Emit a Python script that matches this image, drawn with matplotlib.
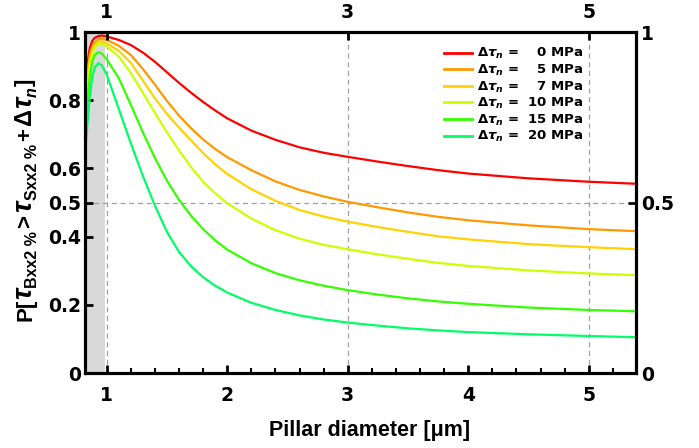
import numpy as np
from matplotlib import pyplot as plt
from matplotlib.transforms import IdentityTransform

plt.rcParams['font.family'] = ['DejaVu Sans']
plt.rcParams['font.weight'] = 'bold'
plt.rcParams['mathtext.fontset'] = 'custom'
plt.rcParams['mathtext.rm'] = 'DejaVu Sans:bold'
plt.rcParams['mathtext.it'] = 'DejaVu Sans:bold:italic'
plt.rcParams['mathtext.bf'] = 'DejaVu Sans:bold'

# pillar diameter [um]
diameter = [0.82, 0.83, 0.84, 0.86, 0.88, 0.9, 0.93, 0.96, 1.0, 1.1, 1.2, 1.3, 1.4, 1.5,
            1.6, 1.7, 1.8, 1.9, 2.0, 2.2, 2.4, 2.6, 2.8, 3.0, 3.25, 3.5, 3.75, 4.0, 4.5, 5.0, 5.4]

p_0mpa = [0.60, 0.80, 0.91, 0.953, 0.974, 0.983, 0.988, 0.99, 0.987, 0.977, 0.962, 0.94, 0.913,
          0.882, 0.851, 0.822, 0.795, 0.770, 0.747, 0.711, 0.684, 0.662, 0.646, 0.634, 0.620,
          0.607, 0.595, 0.585, 0.571, 0.561, 0.555]
p_5mpa = [0.60, 0.78, 0.88, 0.935, 0.958, 0.97, 0.979, 0.981, 0.977, 0.96, 0.933, 0.892, 0.846,
          0.798, 0.755, 0.718, 0.685, 0.657, 0.633, 0.595, 0.562, 0.537, 0.518, 0.502, 0.486,
          0.471, 0.458, 0.448, 0.433, 0.422, 0.416]
p_7mpa = [0.60, 0.77, 0.86, 0.918, 0.947, 0.962, 0.972, 0.973, 0.967, 0.945, 0.91, 0.858, 0.806,
          0.76, 0.72, 0.682, 0.645, 0.612, 0.584, 0.539, 0.505, 0.478, 0.459, 0.444, 0.428,
          0.414, 0.401, 0.392, 0.378, 0.369, 0.363]
p_10mpa = [0.60, 0.75, 0.84, 0.9, 0.935, 0.955, 0.966, 0.966, 0.958, 0.928, 0.88, 0.822, 0.763,
           0.706, 0.653, 0.604, 0.561, 0.527, 0.498, 0.453, 0.419, 0.394, 0.376, 0.363, 0.348,
           0.335, 0.323, 0.314, 0.301, 0.292, 0.287]
p_15mpa = [0.60, 0.73, 0.80, 0.87, 0.913, 0.932, 0.941, 0.937, 0.92, 0.865, 0.787, 0.706, 0.631,
           0.564, 0.508, 0.461, 0.422, 0.389, 0.362, 0.322, 0.293, 0.272, 0.256, 0.243, 0.230,
           0.219, 0.210, 0.203, 0.192, 0.185, 0.181]
p_20mpa = [0.60, 0.68, 0.73, 0.81, 0.868, 0.895, 0.909, 0.902, 0.875, 0.775, 0.674, 0.578, 0.491,
           0.414, 0.355, 0.313, 0.281, 0.256, 0.236, 0.206, 0.185, 0.169, 0.157, 0.148, 0.139,
           0.131, 0.125, 0.12, 0.1135, 0.1085, 0.105]

d_tau = [0, 5, 7, 10, 15, 20]
series = [p_0mpa, p_5mpa, p_7mpa, p_10mpa, p_15mpa, p_20mpa]
colors = ['#ff0000', '#ff9900', '#ffd200', '#ccff00', '#33ff00', '#00ff66']

fig = plt.figure(figsize=(6.99, 4.48), dpi=100)
ax = fig.add_axes([0.1216, 0.1674, 0.788, 0.761])

ax.axvspan(0.82, 0.985, color='#d9d9d9', lw=0, zorder=0)
for xv in [1, 3, 5]:
    ax.axvline(xv, color='#a0a0a0', ls=(0, (4, 3)), lw=0.9, zorder=1)
ax.axhline(0.5, color='#a0a0a0', ls=(0, (4, 3)), lw=0.9, zorder=1)

for dt, ys, c in zip(d_tau, series, colors):
    pad = '  ' if dt < 10 else ''
    ax.plot(diameter, ys, color=c, lw=1.6, zorder=3,
            label=r'$\Delta\tau_n$ =  ' + pad + f'{dt} MPa')

tick_fs = 13.5
ax.set_xlim(0.82, 5.39)
ax.set_ylim(0, 1)
ax.set_xticks([1, 2, 3, 4, 5])
ax.set_xticks(np.arange(1.2, 5.4, 0.2), minor=True)
ax.set_yticks([0, 0.2, 0.4, 0.5, 0.6, 0.8, 1])
ax.set_yticklabels(['0', '0.2', '0.4', '0.5', '0.6', '0.8', '1'])
ax.tick_params(axis='both', direction='in', labelsize=tick_fs, width=2, length=6)
ax.tick_params(axis='x', pad=9)
ax.tick_params(axis='y', pad=3)
ax.tick_params(axis='x', which='minor', direction='in', width=1.5, length=3.5)
for s in ax.spines.values():
    s.set_linewidth(2.2)

ax.set_xlabel('Pillar diameter [μm]', fontsize=15.5, fontweight='bold',
              family='Liberation Sans', labelpad=11)
ax.xaxis.label.set_x(0.517)

top = ax.twiny()
top.set_xlim(ax.get_xlim())
top.set_xticks([1, 3, 5])
top.tick_params(direction='in', labelsize=tick_fs, width=2, length=6, pad=7)

right = ax.twinx()
right.set_ylim(0, 1)
right.set_yticks([0, 0.5, 1])
right.set_yticklabels(['0', '0.5', '1'])
right.tick_params(direction='in', labelsize=tick_fs, width=2, length=6, pad=4)
for a in (top, right):
    for s in a.spines.values():
        s.set_linewidth(2.2)

leg = ax.legend(loc='upper right', bbox_to_anchor=(0.905, 0.958), frameon=False,
                fontsize=9.5, handlelength=2.1, handletextpad=0.4, labelspacing=0.11,
                borderpad=0, borderaxespad=0)
for line in leg.get_lines():
    line.set_linewidth(2)

# y label built from pieces: big tau, large subscripts (as in the original)
# (text, size, style, baseline shift px, gap after px)
ylabel_parts = [('P[', 16, 'normal', 0, 0), ('τ', 20, 'italic', 0, 0),
                ('Bxx2 %', 11.5, 'normal', 6, 3), ('>', 16, 'normal', 0, 3),
                ('τ', 20, 'italic', 0, 0), ('Sxx2 %', 11.5, 'normal', 6, 3),
                ('+', 16, 'normal', 0, 3), ('Δ', 17, 'normal', 0, 0), ('τ', 20, 'italic', 0, 0),
                ('n', 11.5, 'italic', 6, 1), (']', 16, 'normal', 0, 0)]
fig.canvas.draw()
renderer = fig.canvas.get_renderer()
base_x = 31
texts = []
for s, fs, style, shift, gap in ylabel_parts:
    t = fig.text(base_x + shift, 0, s, rotation=90, rotation_mode='anchor', ha='left',
                 va='baseline', fontsize=fs, fontstyle=style, fontweight='bold',
                 family='Liberation Sans', transform=IdentityTransform())
    texts.append((t, shift, gap))
lengths = [t.get_window_extent(renderer).height + gap for t, _, gap in texts]
y = 448 - 200 - sum(lengths) / 2
for (t, shift, gap), ln in zip(texts, lengths):
    t.set_position((base_x + shift, y))
    y += ln

fig.savefig('out.png', dpi=100)
